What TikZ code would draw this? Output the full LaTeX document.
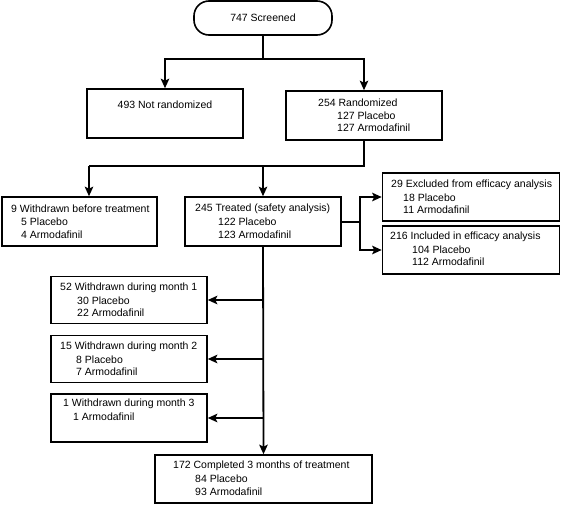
\documentclass[tikz,border=0pt]{standalone}
\usepackage{fontspec}
\setmainfont{Liberation Sans}
\usetikzlibrary{arrows.meta}
\begin{document}
\begin{tikzpicture}[x=1pt,y=-1pt,
  box/.style={draw=black, line width=1.6pt, rectangle, inner sep=0pt},
  txt/.style={anchor=west, inner sep=0pt, font=\fontsize{10.5}{12}\selectfont},
  ctxt/.style={anchor=center, inner sep=0pt, font=\fontsize{10.5}{12}\selectfont},
  conn/.style={draw=black, line width=1.8pt},
  arr/.style={conn, -{Stealth[length=9.5pt,width=8.5pt,inset=2pt]}}]
\useasboundingbox (0,0) rectangle (568,504);
% boxes
\node[box, rounded corners=15pt, minimum width=138pt, minimum height=34pt] (scr) at (263,18) {};
\node[box, minimum width=156pt, minimum height=49pt] (notr) at (165,113.5) {};
\node[box, minimum width=156pt, minimum height=49pt] (rand) at (364,115.5) {};
\node[box, minimum width=155pt, minimum height=49pt] (wbt) at (79.5,221.5) {};
\node[box, minimum width=156pt, minimum height=49pt] (treat) at (263,221.5) {};
\node[box, minimum width=177pt, minimum height=48pt] (excl) at (471,197) {};
\node[box, minimum width=177pt, minimum height=48pt] (incl) at (471,250) {};
\node[box, minimum width=156pt, minimum height=47pt] (w1) at (129,300) {};
\node[box, minimum width=156pt, minimum height=47pt] (w2) at (129,359) {};
\node[box, minimum width=156pt, minimum height=48pt] (w3) at (129,418) {};
\node[box, minimum width=217pt, minimum height=48pt] (comp) at (263.5,479) {};
% texts
\node[ctxt] (tscr) at (263,18) {747 Screened};
\node[ctxt] (tnotr) at (165,105) {493 Not randomized};
\node[txt] (trand1) at (318,103) {254 Randomized};
\node[txt] (trand2) at (337,115.5) {127 Placebo};
\node[txt] (trand3) at (337,128) {127 Armodafinil};
\node[txt] (twbt1) at (11,209) {9 Withdrawn before treatment};
\node[txt] (twbt2) at (21,222) {5 Placebo};
\node[txt] (twbt3) at (21,234.5) {4 Armodafinil};
\node[txt] (ttr1) at (195,209) {245 Treated (safety analysis)};
\node[txt] (ttr2) at (218,222) {122 Placebo};
\node[txt] (ttr3) at (218,234.5) {123 Armodafinil};
\node[txt] (tex1) at (391,185) {29 Excluded from efficacy analysis};
\node[txt] (tex2) at (403,197.5) {18 Placebo};
\node[txt] (tex3) at (403,210) {11 Armodafinil};
\node[txt] (tin1) at (390,237) {216 Included in efficacy analysis};
\node[txt] (tin2) at (412,249.5) {104 Placebo};
\node[txt] (tin3) at (412,262) {112 Armodafinil};
\node[txt] (tw11) at (60,288) {52 Withdrawn during month 1};
\node[txt] (tw12) at (77,300.5) {30 Placebo};
\node[txt] (tw13) at (77,313) {22 Armodafinil};
\node[txt] (tw21) at (60,347) {15 Withdrawn during month 2};
\node[txt] (tw22) at (76,359.5) {8 Placebo};
\node[txt] (tw23) at (76,372) {7 Armodafinil};
\node[txt] (tw31) at (63,404) {1 Withdrawn during month 3};
\node[txt] (tw32) at (73,416.5) {1 Armodafinil};
\node[txt] (tc1) at (173,466) {172 Completed 3 months of treatment};
\node[txt] (tc2) at (195,479) {84 Placebo};
\node[txt] (tc3) at (195,491.5) {93 Armodafinil};
% connectors
\coordinate (j1) at (263,59);
\draw[conn] (scr.south) -- (j1);
\draw[arr] (j1) -| (notr.north);
\draw[arr] (j1) -| (rand.north);
\coordinate (j2) at (364,166);
\coordinate (j2l) at (89,166);
\draw[conn] (rand.south) -- (j2) -- (j2l);
\draw[arr] (j2l) -- (j2l |- wbt.north);
\draw[arr] (j2 -| treat.north) -- (treat.north);
\coordinate (j3) at (360,222);
\draw[conn] (treat.east |- j3) -- (j3);
\draw[arr] (j3) |- (excl.west);
\draw[arr] (j3) |- (incl.west);
\draw[arr] (treat.south) -- (comp.north);
\draw[arr] (treat.south |- w1.east) -- (w1.east);
\draw[arr] (treat.south |- w2.east) -- (w2.east);
\draw[arr] (treat.south |- w3.east) -- (w3.east);
\end{tikzpicture}
\end{document}
